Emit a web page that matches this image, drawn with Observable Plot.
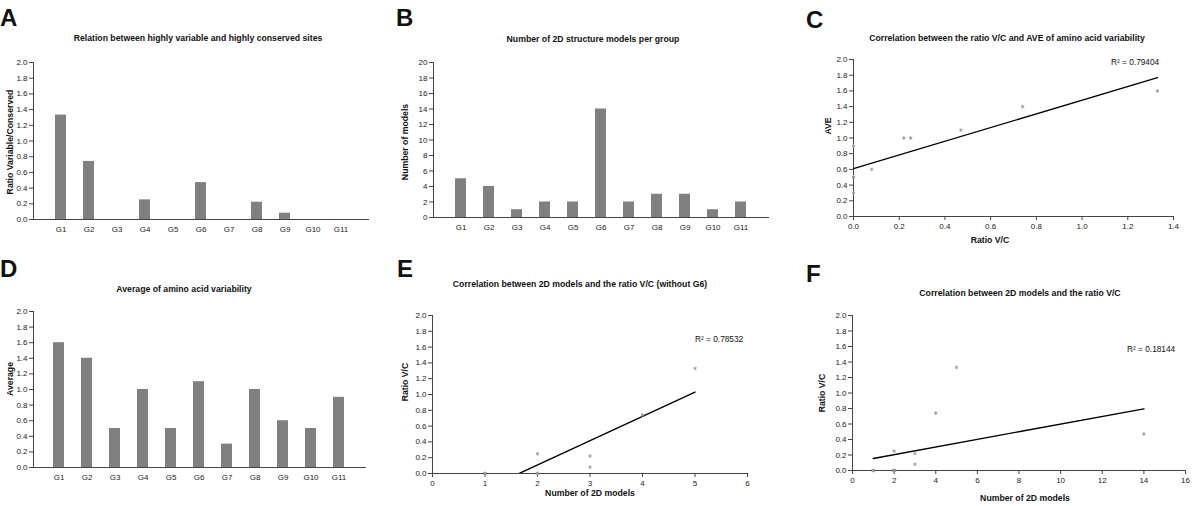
<!DOCTYPE html>
<html>
<head>
<meta charset="utf-8">
<script src="https://cdn.jsdelivr.net/npm/d3@7"></script>
<script src="https://cdn.jsdelivr.net/npm/@observablehq/plot@0.6"></script>
<style>
  html, body { margin: 0; padding: 0; background: #fff; }
  #root { position: relative; width: 1200px; height: 506px; overflow: hidden; font-family: "Liberation Sans", Arial, sans-serif; color: #111; }
  .abs { position: absolute; white-space: nowrap; }
  .letter { font-weight: bold; font-size: 24px; line-height: 1; }
  .title { font-weight: bold; font-size: 8.7px; transform: translate(-50%, -50%); }
  .xlab { font-weight: bold; font-size: 8.7px; transform: translate(-50%, -50%); }
  .ylab { font-weight: bold; font-size: 8.7px; transform: translate(-50%, -50%) rotate(-90deg); }
  .r2 { font-size: 8.3px; transform: translateY(-50%); }
  svg { overflow: visible; }
  svg text { fill: #222; }
</style>
</head>
<body>
<div id="root"></div>
<script>
// ---------- data ----------
const groups = ["G1","G2","G3","G4","G5","G6","G7","G8","G9","G10","G11"];
const ratioVC = [1.33, 0.74, 0, 0.25, 0, 0.47, 0, 0.22, 0.08, 0, 0];   // panel A
const models  = [5, 4, 1, 2, 2, 14, 2, 3, 3, 1, 2];                      // panel B
const average = [1.6, 1.4, 0.5, 1.0, 0.5, 1.1, 0.3, 1.0, 0.6, 0.5, 0.9]; // panel D
const ratioTicks = [0, 0.2, 0.4, 0.6, 0.8, 1.0, 1.2, 1.4, 1.6, 1.8, 2.0];
const modelTicks = [0, 2, 4, 6, 8, 10, 12, 14, 16, 18, 20];
const cXTicks = [0, 0.2, 0.4, 0.6, 0.8, 1.0, 1.2, 1.4];
const eXTicks = [0, 1, 2, 3, 4, 5, 6];
const fXTicks = [0, 2, 4, 6, 8, 10, 12, 14, 16];
const r2Labels = {C: "R² = 0.79404", E: "R² = 0.78532", F: "R² = 0.18144"};
const titles = {
  A: "Relation between highly variable and highly conserved sites",
  B: "Number of 2D structure models per group",
  C: "Correlation between the ratio V/C and AVE of amino acid variability",
  D: "Average of amino acid variability",
  E: "Correlation between 2D models and the ratio V/C (without G6)",
  F: "Correlation between 2D models and the ratio V/C"
};

const rows = groups.map((g, i) => ({group: g, ratio: ratioVC[i], models: models[i], average: average[i]}));
const rowsNoG6 = rows.filter(d => d.group !== "G6");

// ---------- layout helpers ----------
const root = document.getElementById("root");
function addDiv(cls, text, x, y) {
  const d = document.createElement("div");
  d.className = "abs " + cls;
  d.textContent = text;
  d.style.left = x + "px";
  d.style.top = y + "px";
  root.appendChild(d);
  return d;
}
const AX = "#444";
const TXT = "#222";
const ml = 40, mt = 10, mr = 12, mb = 24;
function place(frame, plotFn) {
  const [L, T, R, B] = frame;
  const width = R - L + ml + mr, height = B - T + mt + mb;
  const svg = plotFn({width, height, marginLeft: ml, marginTop: mt, marginRight: mr, marginBottom: mb,
    style: {fontFamily: "'Liberation Sans', Arial, sans-serif", fontSize: "8px", color: TXT, background: "transparent", overflow: "visible"}});
  svg.style.position = "absolute";
  svg.style.left = (L - ml) + "px";
  svg.style.top = (T - mt) + "px";
  root.appendChild(svg);
}

function barPanel(frame, key, yDomain, yTicks, yFmt, tickOffset) {
  place(frame, base => Plot.plot({
    ...base,
    x: {type: "band", domain: groups, padding: 0.6, align: 0.5},
    y: {domain: yDomain},
    marks: [
      Plot.barY(rows, {x: "group", y: key, fill: "#808080"}),
      Plot.axisY({ticks: yTicks, tickFormat: yFmt, tickSize: 4, tickPadding: 2, fontSize: 8, stroke: AX, fill: TXT, label: null}),
      Plot.axisX({tickSize: 0, tickPadding: tickOffset, fontSize: 8, fill: TXT, label: null}),
      Plot.frame({anchor: "left", stroke: AX}),
      Plot.frame({anchor: "bottom", stroke: AX})
    ]
  }));
}

function scatterPanel(frame, data, xKey, yKey, xDomain, xTicks, xFmt) {
  place(frame, base => Plot.plot({
    ...base,
    x: {domain: xDomain},
    y: {domain: [0, 2]},
    marks: [
      Plot.ruleX([xDomain[0]], {stroke: AX}),
      Plot.ruleY([0], {stroke: AX}),
      Plot.axisY({ticks: ratioTicks, tickFormat: d3.format(".1f"), tickSize: 4, tickPadding: 2, fontSize: 8, stroke: AX, fill: TXT, label: null}),
      Plot.axisX({ticks: xTicks, tickFormat: xFmt, tickSize: 4, tickPadding: 3, fontSize: 8, stroke: AX, fill: TXT, label: null}),
      Plot.linearRegressionY(data, {x: xKey, y: yKey, ci: 0, stroke: "#000", strokeWidth: 1.4, clip: true}),
      Plot.dot(data, {x: xKey, y: yKey, symbol: "asterisk", r: 1.7, stroke: "#999", strokeWidth: 0.9})
    ]
  }));
}

// ---------- panels ----------
// A
barPanel([33, 62, 368, 219], "ratio", [0, 2], ratioTicks, d3.format(".1f"), 7);
addDiv("letter", "A", 0, 6);
addDiv("title", titles.A, 198, 38);
addDiv("ylab", "Ratio Variable/Conserved", 10, 142);

// B
barPanel([433, 62, 768, 217], "models", [0, 20], modelTicks, d3.format("d"), 7);
addDiv("letter", "B", 396, 6);
addDiv("title", titles.B, 593, 39);
addDiv("ylab", "Number of models", 405, 142);

// C
scatterPanel([853, 59, 1173, 216], rows, "ratio", "average", [0, 1.4], cXTicks, d3.format(".1f"));
addDiv("letter", "C", 806, 8);
addDiv("title", titles.C, 1007, 38);
addDiv("ylab", "AVE", 828, 126);
addDiv("xlab", "Ratio V/C", 990, 240);
addDiv("r2", r2Labels.C, 1111, 62);

// D
barPanel([33, 311, 365, 467], "average", [0, 2], ratioTicks, d3.format(".1f"), 7);
addDiv("letter", "D", 0, 257);
addDiv("title", titles.D, 184, 289);
addDiv("ylab", "Average", 10, 379);

// E
scatterPanel([432, 315, 747, 473], rowsNoG6, "models", "ratio", [0, 6], eXTicks, d3.format("d"));
addDiv("letter", "E", 397, 257);
addDiv("title", titles.E, 580, 284);
addDiv("ylab", "Ratio V/C", 405, 382);
addDiv("xlab", "Number of 2D models", 590, 493);
addDiv("r2", r2Labels.E, 695, 339);

// F
scatterPanel([852, 315, 1185, 470], rows, "models", "ratio", [0, 16], fXTicks, d3.format("d"));
addDiv("letter", "F", 806, 262);
addDiv("title", titles.F, 1020, 293);
addDiv("ylab", "Ratio V/C", 822, 393);
addDiv("xlab", "Number of 2D models", 1025, 498);
addDiv("r2", r2Labels.F, 1127, 349);
</script>
</body>
</html>
